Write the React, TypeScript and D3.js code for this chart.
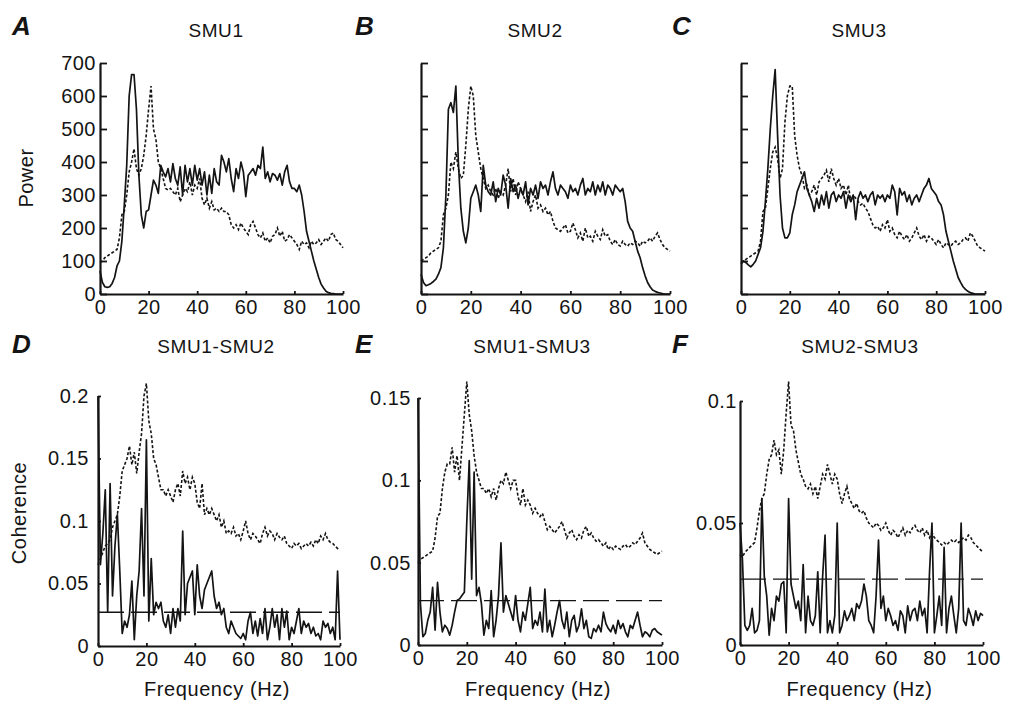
import React, { useEffect, useRef } from "react";
import * as d3 from "d3";

// frequency bins, 1 Hz apart
const freqHz = d3.range(0, 101);
const freqTicks = [0, 20, 40, 60, 80, 100];
const powerTicks = [0, 100, 200, 300, 400, 500, 600, 700];

// power spectra (solid = unit, dotted = reference)
const smu1Power = [
  70, 35, 22, 20, 22, 32, 50, 85, 100, 160,
  270, 390, 600, 665, 665, 560, 360, 240, 200, 250,
  255, 300, 345, 330, 305, 390, 370, 355, 380, 340,
  395, 350, 330, 385, 300, 390, 340, 380, 330, 390,
  345, 380, 330, 370, 300, 360, 305, 380, 340, 330,
  420, 400, 370, 410, 350, 310, 380, 350, 400, 370,
  295, 360, 370, 380, 360, 390, 380, 445, 350, 370,
  340, 365, 360, 345, 365, 330, 370, 390, 340, 320,
  320, 310, 330, 300, 250, 190, 160, 130, 100, 75,
  50, 30, 18, 8, 4, 2, 1, 0, 0, 0,
  0,
];
const smu1Ref = [
  95, 100, 110, 115, 120, 125, 130, 135, 170, 240,
  250, 300, 370, 400, 440, 380, 360, 380, 420, 480,
  560, 630, 500, 470, 400, 380, 350, 320, 315, 320,
  310, 300, 320, 280, 300, 320, 310, 340, 300, 330,
  320, 350, 290, 270, 290, 260, 280, 255, 260, 250,
  260, 250, 250, 240, 210, 200, 210, 195, 215, 200,
  190, 180, 210, 220, 200, 180, 170, 185, 160, 170,
  155, 175, 180, 200, 175, 190, 160, 165, 180, 170,
  160, 150, 135, 160, 150, 155, 140, 160, 150, 155,
  165, 150, 160, 170, 160, 180, 185, 165, 160, 150,
  140,
];
const smu2Power = [
  60, 35, 25, 28, 32, 38, 45, 60, 80, 140,
  300, 560, 580, 550, 630, 400, 260, 190, 155, 200,
  290, 310, 330, 300, 250, 390, 330, 310, 300, 340,
  280, 320, 300, 360, 330, 260, 350, 310, 330, 290,
  320, 300, 340, 270, 320, 300, 330, 290, 340, 320,
  330, 300, 340, 370, 320, 300, 330, 320, 310, 290,
  330, 310, 320, 300, 330, 350, 300, 320, 310, 340,
  300, 330, 310, 340, 300, 330, 320, 300, 330, 320,
  310, 320, 280, 220, 200, 190, 160, 130, 110, 80,
  55, 35, 22, 12, 8, 5, 3, 1, 0, 0,
  0,
];
const smu2Ref = [
  100, 105, 110, 115, 125, 130, 135, 140, 160, 240,
  260, 300, 400, 380, 430, 380, 350, 360, 450, 560,
  630, 600, 480, 430, 380, 350, 320, 330, 310, 300,
  320, 290, 310, 300, 330, 380, 310, 350, 300, 340,
  320, 300, 280, 310, 250, 280, 300, 260, 270, 250,
  260, 240, 250, 220, 200, 195, 190, 200, 210, 185,
  190, 215, 195, 170, 185, 160, 200, 170, 175, 160,
  190, 175, 165, 195, 175, 180, 160, 150, 165, 150,
  145, 160, 150, 145, 155, 150, 160, 155, 145, 160,
  155, 160, 170, 160, 175, 185, 165, 150, 140, 135,
  130,
];
const smu3Power = [
  90, 100, 95, 88, 82, 90, 100, 120, 140, 190,
  280, 380, 500, 600, 680, 480, 300, 200, 170, 170,
  185, 240, 270, 310, 330, 350, 370, 320, 300, 280,
  250, 290, 260, 300, 270, 310, 260, 300, 310, 280,
  300, 290, 310, 260, 300, 280, 300, 225, 290, 310,
  290, 300, 280, 300, 310, 270, 300, 290, 300, 280,
  300, 290, 330, 310, 240, 320, 300, 310, 280, 300,
  270, 290, 300, 280, 300, 320, 330, 350, 320, 310,
  300, 280, 270, 240, 190, 160, 130, 100, 75, 50,
  35, 22, 14, 8, 4, 2, 0, 0, 0, 0,
  0,
];
const smu3Ref = [
  95, 100, 105, 110, 115, 120, 125, 130, 160, 250,
  260, 320, 380, 430, 445, 410, 350, 380, 520, 600,
  630, 630, 480, 420, 380, 360, 320, 330, 300, 310,
  330, 300, 340, 350, 360, 375, 340, 380, 350, 330,
  350, 320, 330, 300, 330, 280, 300, 290, 280, 270,
  275, 260, 250, 230, 210, 200, 205, 190, 210, 200,
  225, 190, 200, 180, 170, 190, 175, 165, 180, 160,
  170, 185, 200, 175, 165, 180, 160, 175, 170, 160,
  150, 165, 150, 140, 155, 150, 145, 155, 160, 150,
  155, 165, 170, 160, 185, 175, 160, 145, 140, 135,
  130,
];

// coherence spectra (solid = pair, dotted = reference), significance level
const coh12 = [
  0.2, 0.065, 0.09, 0.125, 0.027, 0.13, 0.04, 0.08, 0.105, 0.06,
  0.01, 0.02, 0.015, 0.025, 0.052, 0.005, 0.04, 0.06, 0.11, 0.04,
  0.165, 0.02, 0.07, 0.025, 0.035, 0.03, 0.035, 0.02, 0.015, 0.025,
  0.01, 0.03, 0.015, 0.03, 0.02, 0.092, 0.025, 0.05, 0.055, 0.06,
  0.025, 0.065, 0.04, 0.03, 0.045, 0.05, 0.055, 0.06, 0.04, 0.03,
  0.035, 0.025, 0.03, 0.015, 0.01, 0.02, 0.015, 0.01, 0.008, 0.006,
  0.01, 0.005, 0.02, 0.027, 0.01, 0.02, 0.008, 0.022, 0.01, 0.03,
  0.005, 0.015, 0.03, 0.015, 0.025, 0.005, 0.03, 0.015, 0.028, 0.005,
  0.015, 0.01, 0.02, 0.03, 0.01, 0.02, 0.015, 0.018, 0.01, 0.015,
  0.008, 0.01, 0.005, 0.02, 0.015, 0.018, 0.01, 0.015, 0.005, 0.06,
  0.005,
];
const coh12Ref = [
  0.065, 0.07, 0.075, 0.08, 0.082, 0.085, 0.095, 0.1, 0.105, 0.12,
  0.14, 0.145, 0.15, 0.16, 0.145, 0.155, 0.138, 0.155, 0.17, 0.2,
  0.21, 0.18, 0.17, 0.15, 0.145, 0.135, 0.125, 0.125, 0.12, 0.125,
  0.12, 0.115, 0.125, 0.13, 0.12, 0.14, 0.13, 0.135, 0.125, 0.135,
  0.13, 0.115, 0.11, 0.13, 0.105, 0.11, 0.105, 0.11, 0.105, 0.1,
  0.105, 0.095, 0.1, 0.09, 0.092, 0.09, 0.095, 0.088, 0.09, 0.085,
  0.092, 0.1, 0.09, 0.085, 0.09, 0.088, 0.085, 0.082, 0.09, 0.095,
  0.088, 0.092, 0.09, 0.085, 0.09, 0.087, 0.085, 0.088, 0.082, 0.08,
  0.078, 0.082, 0.08, 0.082, 0.078, 0.08, 0.082, 0.08, 0.083, 0.08,
  0.085, 0.082, 0.088, 0.085, 0.09, 0.085, 0.083, 0.082, 0.08, 0.078,
  0.077,
];
const coh13 = [
  0.15, 0.025, 0.005, 0.007, 0.015, 0.02, 0.035, 0.009, 0.038, 0.02,
  0.008, 0.012, 0.01, 0.006, 0.012, 0.02, 0.027, 0.028, 0.03, 0.032,
  0.075, 0.112, 0.04, 0.105, 0.03, 0.035, 0.025, 0.006, 0.015, 0.01,
  0.033, 0.005, 0.015, 0.03, 0.062, 0.02, 0.03, 0.025, 0.02, 0.015,
  0.03, 0.015, 0.008, 0.02, 0.015, 0.025, 0.035, 0.01, 0.015, 0.012,
  0.02, 0.008, 0.034, 0.008, 0.015, 0.005, 0.012, 0.02, 0.027, 0.015,
  0.01, 0.02, 0.005, 0.015, 0.018, 0.008, 0.012, 0.022, 0.01, 0.015,
  0.005, 0.004, 0.01, 0.008, 0.012, 0.008, 0.02, 0.013, 0.01, 0.008,
  0.012, 0.007, 0.015, 0.01, 0.013, 0.008, 0.005, 0.012, 0.01, 0.015,
  0.02, 0.012, 0.005, 0.008, 0.007, 0.005, 0.009, 0.01, 0.008, 0.007,
  0.006,
];
const coh13Ref = [
  0.05, 0.052, 0.053, 0.054, 0.055, 0.056, 0.057, 0.065, 0.078, 0.08,
  0.095, 0.105, 0.11, 0.11, 0.12, 0.105, 0.115, 0.1, 0.12, 0.14,
  0.16, 0.14, 0.13, 0.115, 0.105, 0.1, 0.095, 0.095, 0.092, 0.095,
  0.09, 0.095, 0.088, 0.095, 0.1, 0.098, 0.105, 0.1, 0.095, 0.1,
  0.1, 0.09, 0.085, 0.095, 0.085, 0.088, 0.085, 0.08, 0.083, 0.08,
  0.078, 0.08, 0.075, 0.07, 0.072, 0.07, 0.068, 0.07, 0.072, 0.075,
  0.07, 0.065, 0.068, 0.07, 0.066, 0.064, 0.067, 0.065, 0.07, 0.072,
  0.066, 0.068, 0.065, 0.063, 0.064, 0.062, 0.06, 0.062, 0.058, 0.06,
  0.058, 0.06, 0.059, 0.058, 0.06, 0.061, 0.059, 0.06, 0.062, 0.061,
  0.063, 0.065, 0.068, 0.062, 0.06, 0.058, 0.057, 0.056, 0.055, 0.056,
  0.057,
];
const coh23 = [
  0.05, 0.035, 0.008, 0.006, 0.008, 0.015, 0.005, 0.006, 0.01, 0.06,
  0.028, 0.02, 0.004, 0.015, 0.01, 0.02, 0.018, 0.025, 0.026, 0.005,
  0.06, 0.025, 0.02, 0.015, 0.018, 0.01, 0.033, 0.005, 0.02, 0.01,
  0.008, 0.012, 0.03, 0.005, 0.028, 0.045, 0.005, 0.01, 0.005, 0.012,
  0.05, 0.005, 0.008, 0.014, 0.01, 0.012, 0.015, 0.01, 0.017, 0.015,
  0.018, 0.025, 0.02, 0.01, 0.008, 0.005, 0.02, 0.043, 0.015, 0.02,
  0.01, 0.015, 0.012, 0.008, 0.01, 0.006, 0.014, 0.012, 0.005, 0.016,
  0.01, 0.014, 0.015, 0.01, 0.018, 0.012, 0.015, 0.005, 0.03, 0.05,
  0.005, 0.012, 0.02, 0.008, 0.04, 0.005, 0.015, 0.02, 0.012, 0.005,
  0.015, 0.05, 0.01, 0.008, 0.015, 0.012, 0.008, 0.014, 0.01, 0.013,
  0.012,
];
const coh23Ref = [
  0.037, 0.036, 0.038, 0.039, 0.04, 0.041, 0.042, 0.048, 0.055, 0.06,
  0.062, 0.07, 0.076, 0.078, 0.084, 0.078, 0.08, 0.07, 0.08, 0.095,
  0.108, 0.09, 0.088, 0.08, 0.075, 0.07, 0.068, 0.065, 0.064, 0.066,
  0.062, 0.065, 0.06, 0.065, 0.07, 0.068, 0.074, 0.07, 0.066, 0.07,
  0.068, 0.062, 0.058, 0.062, 0.065, 0.06, 0.058, 0.056, 0.058, 0.055,
  0.054, 0.055, 0.052, 0.05, 0.049, 0.048, 0.05, 0.049, 0.047, 0.048,
  0.05, 0.047, 0.045, 0.047, 0.046, 0.044, 0.046, 0.048, 0.045, 0.047,
  0.046, 0.048, 0.049, 0.047, 0.046, 0.048, 0.045, 0.047, 0.044, 0.046,
  0.044, 0.043, 0.042, 0.041, 0.042, 0.041, 0.042, 0.043, 0.042, 0.043,
  0.042, 0.043, 0.044, 0.043, 0.045, 0.044, 0.042, 0.041, 0.04, 0.039,
  0.038,
];
const sigLevel = 0.027;

const INK = "#141414";
const FONT = "'Liberation Sans', Arial, Helvetica, sans-serif";

const panels = [
  { letter: "A", title: "SMU1", lx: 12, ly: 35, tx: 216, ty: 37, left: 100, right: 343, bottom: 294, top: 63,
    yMax: 700, yTicks: powerTicks, yLabels: true, yPad: 4, tick: 7, yTitle: "Power", yTitleX: 33, yTitleY: 178,
    solid: smu1Power, dotted: smu1Ref, sig: null, xTitle: false },
  { letter: "B", title: "SMU2", lx: 355, ly: 35, tx: 535, ty: 37, left: 421, right: 670, bottom: 294, top: 63,
    yMax: 700, yTicks: powerTicks, yLabels: false, yPad: 4, tick: 7, yTitle: null, yTitleX: 0, yTitleY: 0,
    solid: smu2Power, dotted: smu2Ref, sig: null, xTitle: false },
  { letter: "C", title: "SMU3", lx: 672, ly: 35, tx: 859, ty: 37, left: 741, right: 985, bottom: 294, top: 63,
    yMax: 700, yTicks: powerTicks, yLabels: false, yPad: 4, tick: 7, yTitle: null, yTitleX: 0, yTitleY: 0,
    solid: smu3Power, dotted: smu3Ref, sig: null, xTitle: false },
  { letter: "D", title: "SMU1-SMU2", lx: 12, ly: 353, tx: 216, ty: 353, left: 98, right: 340, bottom: 646, top: 396,
    yMax: 0.2, yTicks: [0, 0.05, 0.1, 0.15, 0.2], yLabels: true, yPad: 9, tick: 3, yTitle: "Coherence", yTitleX: 26, yTitleY: 513,
    solid: coh12, dotted: coh12Ref, sig: sigLevel, xTitle: true },
  { letter: "E", title: "SMU1-SMU3", lx: 355, ly: 353, tx: 532, ty: 353, left: 418, right: 662, bottom: 645, top: 398,
    yMax: 0.15, yTicks: [0, 0.05, 0.1, 0.15], yLabels: true, yPad: 7, tick: 3, yTitle: null, yTitleX: 0, yTitleY: 0,
    solid: coh13, dotted: coh13Ref, sig: sigLevel, xTitle: true },
  { letter: "F", title: "SMU2-SMU3", lx: 672, ly: 353, tx: 860, ty: 353, left: 740, right: 983, bottom: 645, top: 401,
    yMax: 0.1, yTicks: [0, 0.05, 0.1], yLabels: true, yPad: 3, tick: 3, yTitle: null, yTitleX: 0, yTitleY: 0,
    solid: coh23, dotted: coh23Ref, sig: sigLevel, xTitle: true },
];

function drawPanel(svg: any, p: any) {
  const x = d3.scaleLinear().domain([0, 100]).range([p.left, p.right]);
  const y = d3.scaleLinear().domain([0, p.yMax]).range([p.bottom, p.top]);
  const g = svg.append("g");

  const line = d3.line<number>()
    .x((d, i) => x(freqHz[i]))
    .y(d => y(d));

  // reference spectrum (dotted)
  g.append("path")
    .datum(p.dotted)
    .attr("d", line)
    .attr("fill", "none")
    .attr("stroke", INK)
    .attr("stroke-width", 1.6)
    .attr("stroke-dasharray", "3,2");

  // significance level
  if (p.sig != null) {
    g.append("line")
      .attr("x1", x(0)).attr("x2", x(100))
      .attr("y1", y(p.sig)).attr("y2", y(p.sig))
      .attr("stroke", INK)
      .attr("stroke-width", 1.3)
      .attr("stroke-dasharray", "26,7");
  }

  // unit spectrum (solid)
  g.append("path")
    .datum(p.solid)
    .attr("d", line)
    .attr("fill", "none")
    .attr("stroke", INK)
    .attr("stroke-width", 1.7)
    .attr("stroke-linejoin", "round");

  // axes
  const yAxis = d3.axisLeft(y)
    .tickValues(p.yTicks)
    .tickSizeInner(-p.tick)
    .tickSizeOuter(0)
    .tickPadding(p.yPad)
    .tickFormat(p.yLabels ? (d: any) => String(d) : () => "");
  const xAxis = d3.axisBottom(x)
    .tickValues(freqTicks)
    .tickSizeInner(-3)
    .tickSizeOuter(0)
    .tickPadding(6)
    .tickFormat((d: any) => String(d));

  [g.append("g").attr("transform", `translate(${p.left},0)`).call(yAxis),
   g.append("g").attr("transform", `translate(0,${p.bottom})`).call(xAxis)]
    .forEach(a => {
      a.attr("font-size", 20).attr("font-family", FONT).attr("color", INK);
      a.select(".domain").attr("stroke-width", 2.2);
      a.selectAll(".tick line").attr("stroke-width", 1.8);
      a.selectAll("text").attr("letter-spacing", "0.5px");
    });

  // labels
  g.append("text")
    .attr("x", p.lx).attr("y", p.ly)
    .attr("font-family", FONT).attr("font-size", 26)
    .attr("font-weight", "bold").attr("font-style", "italic")
    .attr("fill", INK)
    .text(p.letter);
  g.append("text")
    .attr("x", p.tx).attr("y", p.ty)
    .attr("text-anchor", "middle")
    .attr("font-family", FONT).attr("font-size", 19)
    .attr("letter-spacing", "0.6px")
    .attr("fill", INK)
    .text(p.title);
  if (p.yTitle) {
    g.append("text")
      .attr("transform", `translate(${p.yTitleX},${p.yTitleY}) rotate(-90)`)
      .attr("text-anchor", "middle")
      .attr("font-family", FONT).attr("font-size", 20)
      .attr("letter-spacing", "0.5px")
      .attr("fill", INK)
      .text(p.yTitle);
  }
  if (p.xTitle) {
    g.append("text")
      .attr("x", (p.left + p.right) / 2 - 2).attr("y", 696)
      .attr("text-anchor", "middle")
      .attr("font-family", FONT).attr("font-size", 20)
      .attr("letter-spacing", "0.6px")
      .attr("fill", INK)
      .text("Frequency (Hz)");
  }
}

export default function App() {
  const ref = useRef<SVGSVGElement>(null);

  useEffect(() => {
    const svg = d3.select(ref.current);
    svg.selectAll("*").remove();
    panels.forEach(p => drawPanel(svg, p));
  }, []);

  return (
    <div style={{ position: "absolute", left: 0, top: 0 }}>
      <svg ref={ref} width={1009} height={702} style={{ display: "block", background: "#fff" }} />
    </div>
  );
}
